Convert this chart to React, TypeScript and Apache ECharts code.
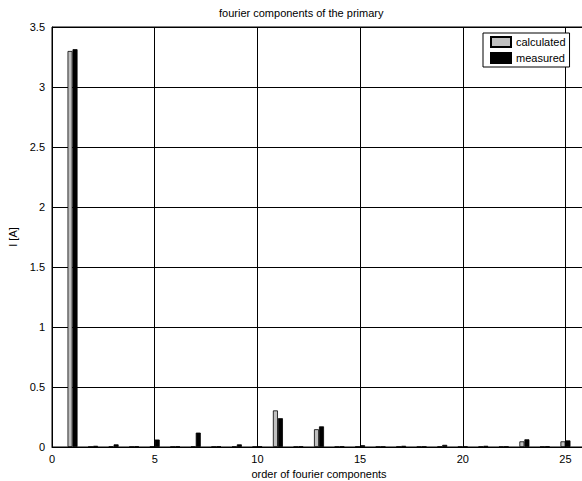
import React, { useEffect, useRef } from "react";
import * as echarts from "echarts";

const orders = [1, 2, 3, 4, 5, 6, 7, 8, 9, 10, 11, 12, 13, 14, 15, 16, 17, 18, 19, 20, 21, 22, 23, 24, 25];
const calculated = [3.3, 0.002, 0.003, 0.002, 0.003, 0.002, 0.003, 0.002, 0.003, 0.002, 0.305, 0.002, 0.148, 0.002, 0.003, 0.002, 0.003, 0.002, 0.003, 0.002, 0.003, 0.002, 0.047, 0.002, 0.047];
const measured = [3.315, 0.01, 0.022, 0.005, 0.062, 0.005, 0.12, 0.005, 0.022, 0.005, 0.24, 0.005, 0.172, 0.005, 0.015, 0.003, 0.01, 0.004, 0.018, 0.004, 0.01, 0.004, 0.064, 0.005, 0.055];
const seriesNames = ["calculated", "measured"];

const FONT = "Liberation Sans, Arial, sans-serif";

export default function App() {
  const ref = useRef<HTMLDivElement>(null);
  useEffect(() => {
    if (!ref.current) return;
    const chart = echarts.init(ref.current, undefined, { renderer: "svg" });
    chart.setOption({
      animation: false,
      backgroundColor: "#fff",
      textStyle: { fontFamily: FONT },
      title: {
        text: "fourier components of the primary",
        left: 214,
        top: 2,
        textStyle: { fontFamily: FONT, fontSize: 11, fontWeight: "normal", color: "#000" },
      },
      legend: {
        orient: "vertical",
        left: 483,
        top: 33,
        padding: [3, 4, 3, 7],
        itemGap: 4,
        itemWidth: 20,
        itemHeight: 10,
        icon: "rect",
        borderColor: "#000",
        borderWidth: 1,
        backgroundColor: "#fff",
        textStyle: { fontFamily: FONT, fontSize: 11, color: "#000" },
        data: seriesNames,
      },
      grid: {
        left: 52,
        top: 27,
        width: 534,
        height: 420,
        show: true,
        borderColor: "#000",
        borderWidth: 1,
        containLabel: false,
        outerBoundsMode: "none",
      },
      xAxis: {
        type: "value",
        min: 0,
        max: 26,
        interval: 5,
        name: "order of fourier components",
        nameLocation: "middle",
        nameGap: 21,
        nameTextStyle: { fontFamily: FONT, fontSize: 11, color: "#000" },
        axisLine: { lineStyle: { color: "#000" } },
        axisTick: { inside: true, length: 5, lineStyle: { color: "#000" } },
        axisLabel: { fontFamily: FONT, fontSize: 11, color: "#000", margin: 6, showMaxLabel: false },
        splitLine: { show: true, lineStyle: { color: "#000", width: 1 } },
      },
      yAxis: {
        type: "value",
        min: 0,
        max: 3.5,
        interval: 0.5,
        name: "I [A]",
        nameLocation: "middle",
        nameGap: 21,
        nameTextStyle: { fontFamily: FONT, fontSize: 11, color: "#000" },
        axisLine: { show: true, lineStyle: { color: "#000" } },
        axisTick: { show: true, inside: true, length: 5, lineStyle: { color: "#000" } },
        axisLabel: { fontFamily: FONT, fontSize: 11, color: "#000", margin: 7 },
        splitLine: { show: true, lineStyle: { color: "#000", width: 1 } },
      },
      series: [
        {
          name: seriesNames[0],
          type: "bar",
          barWidth: 5,
          barGap: "0%",
          data: orders.map((o, i) => [o, calculated[i]]),
          itemStyle: { color: "#c0c0c0", borderColor: "#000", borderWidth: 0.8 },
        },
        {
          name: seriesNames[1],
          type: "bar",
          barWidth: 5,
          barGap: "0%",
          data: orders.map((o, i) => [o, measured[i]]),
          itemStyle: { color: "#000", borderColor: "#000", borderWidth: 0.8 },
        },
      ],
    });
    return () => chart.dispose();
  }, []);
  return <div ref={ref} style={{ width: 582, height: 481, position: "absolute", left: 0, top: 0 }} />;
}
